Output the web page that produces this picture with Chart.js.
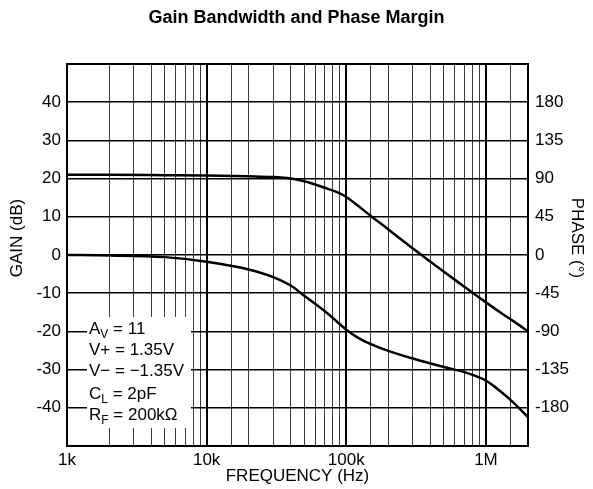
<!DOCTYPE html>
<html>
<head>
<meta charset="utf-8">
<script src="https://cdn.jsdelivr.net/npm/chart.js@4.4.1/dist/chart.umd.min.js"></script>
<style>
  body { margin: 0; background: #fff; }
  #wrap { width: 593px; height: 489px; }
</style>
</head>
<body>
<div id="wrap"><canvas id="gainPhaseChart"></canvas></div>
<script>
// open-loop response, frequency in Hz
const freqHz = [1e3, 2e3, 5e3, 1e4, 2e4, 3e4, 4e4, 5e4, 7e4, 8.5e4, 1e5, 1.2e5, 1.5e5, 2e5, 3e5, 5e5, 7e5, 1e6, 1.3e6, 1.6e6, 2e6];
const gainDb = [21.0, 21.0, 20.9, 20.8, 20.6, 20.4, 20.0, 19.3, 17.6, 16.5, 15.2, 13.0, 10.2, 6.7, 1.7, -4.4, -8.3, -12.4, -15.3, -17.5, -20.0];
const phaseDeg = [0, -0.5, -2.5, -8, -17, -26, -36, -48, -66, -78, -88, -97, -105, -113, -122, -132, -138, -148, -162, -175, -191];

const freqTicks = [1e3, 1e4, 1e5, 1e6];
const freqTickLabels = ["1k", "10k", "100k", "1M"];

// test conditions: [text, subscript, rest]
const conditions = [
    ["A", "V", " = 11"],
    ["V+ = 1.35V", "", ""],
    ["V\u2212 = \u22121.35V", "", ""],
    ["C", "L", " = 2pF"],
    ["R", "F", " = 200k\u03A9"],
];

const FONT = "'Liberation Sans', Arial, Helvetica, sans-serif";
const canvas = document.getElementById("gainPhaseChart");

function isDecade(v) {
    const l = Math.log10(v);
    return Math.abs(l - Math.round(l)) < 1e-6;
}

const framePlugin = {
    id: "frame",
    afterDraw(chart) {
        const { ctx, chartArea: a } = chart;
        ctx.save();

        // conditions box
        ctx.fillStyle = "#fff";
        ctx.fillRect(87, 317, 104, 111);
        ctx.fillStyle = "#000";
        ctx.textBaseline = "alphabetic";
        const baselines = [334, 355, 376, 399, 420];
        conditions.forEach((c, i) => {
            let x = 89;
            const y = baselines[i];
            ctx.font = "17px " + FONT;
            ctx.fillText(c[0], x, y);
            x += ctx.measureText(c[0]).width;
            if (c[1]) {
                ctx.font = "12px " + FONT;
                ctx.fillText(c[1], x, y + 4);
                x += ctx.measureText(c[1]).width;
            }
            if (c[2]) {
                ctx.font = "17px " + FONT;
                ctx.fillText(c[2], x, y);
            }
        });

        // plot frame
        ctx.strokeStyle = "#000";
        ctx.lineWidth = 2;
        ctx.strokeRect(a.left, a.top, a.right - a.left, a.bottom - a.top);

        // vertical axis titles
        ctx.font = "17px " + FONT;
        ctx.textAlign = "center";
        ctx.textBaseline = "middle";
        ctx.save();
        ctx.translate(17, 238);
        ctx.rotate(-Math.PI / 2);
        ctx.fillText("GAIN (dB)", 0, 0);
        ctx.restore();
        ctx.save();
        ctx.translate(577, 238);
        ctx.rotate(Math.PI / 2);
        ctx.fillText("PHASE (\u00B0)", 0, 0);
        ctx.restore();

        ctx.restore();
    },
};

new Chart(canvas, {
    type: "line",
    data: {
        datasets: [
            {
                label: "Gain",
                data: freqHz.map((f, i) => ({ x: f, y: gainDb[i] })),
                yAxisID: "y",
                borderColor: "#000",
                borderWidth: 2.5,
                pointRadius: 0,
                cubicInterpolationMode: "monotone",
            },
            {
                label: "Phase",
                data: freqHz.map((f, i) => ({ x: f, y: phaseDeg[i] })),
                yAxisID: "y1",
                borderColor: "#000",
                borderWidth: 2.5,
                pointRadius: 0,
                cubicInterpolationMode: "monotone",
            },
        ],
    },
    options: {
        responsive: true,
        maintainAspectRatio: false,
        animation: false,
        layout: { padding: 0 },
        plugins: {
            legend: { display: false },
            tooltip: { enabled: false },
            title: {
                display: true,
                text: "Gain Bandwidth and Phase Margin",
                color: "#000",
                font: { family: FONT, size: 18, weight: "bold" },
                padding: { top: 7, bottom: 35.4 },
            },
        },
        scales: {
            x: {
                type: "logarithmic",
                min: 1e3,
                max: 2e6,
                afterFit: (s) => { s.height = 43; },
                border: { display: false },
                grid: {
                    drawTicks: false,
                    color: (c) => (c.tick && isDecade(c.tick.value) ? "#000" : "#3c3c3c"),
                    lineWidth: (c) => (c.tick && isDecade(c.tick.value) ? 2 : 1),
                },
                ticks: {
                    autoSkip: false,
                    maxRotation: 0,
                    padding: 4,
                    color: "#000",
                    font: { family: FONT, size: 17 },
                    callback: (v) => {
                        const i = freqTicks.findIndex((t) => Math.abs(t - v) < 1e-6 * t);
                        return i >= 0 ? freqTickLabels[i] : "";
                    },
                },
                title: {
                    display: true,
                    text: "FREQUENCY (Hz)",
                    color: "#000",
                    font: { family: FONT, size: 17 },
                    padding: { top: 0, bottom: 2 },
                },
            },
            y: {
                position: "left",
                min: -50,
                max: 50,
                afterFit: (s) => { s.width = 67; },
                border: { display: false },
                grid: { drawTicks: false, color: "#000", lineWidth: 1.5 },
                ticks: {
                    stepSize: 10,
                    padding: 6,
                    color: "#000",
                    font: { family: FONT, size: 17 },
                    callback: (v) => (Math.abs(v) === 50 ? "" : v),
                },
            },
            y1: {
                position: "right",
                min: -225,
                max: 225,
                afterFit: (s) => { s.width = 65; },
                border: { display: false },
                grid: { drawTicks: false, drawOnChartArea: false },
                ticks: {
                    stepSize: 45,
                    padding: 7,
                    color: "#000",
                    font: { family: FONT, size: 17 },
                    callback: (v) => (Math.abs(v) === 225 ? "" : v),
                },
            },
        },
    },
    plugins: [framePlugin],
});
</script>
</body>
</html>
